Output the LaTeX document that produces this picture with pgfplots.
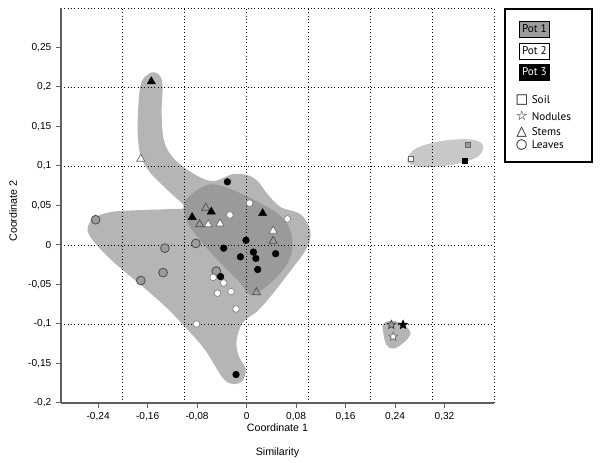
\documentclass[border=0pt]{standalone}
\usepackage{fontspec}
\setmainfont{Liberation Sans}
\newfontfamily\legfont{PT Sans}
\newfontfamily\symfont{DejaVu Sans}
\usepackage{pgfplots}
\pgfplotsset{compat=1.18}
\definecolor{areaA}{HTML}{B5B5B5}
\definecolor{areaB}{HTML}{9A9A9A}
\definecolor{areaC}{HTML}{C8C8C8}
\definecolor{potgray}{HTML}{9C9C9C}
\definecolor{spine}{HTML}{606060}

% five-pointed star mark
\pgfdeclareplotmark{pstar}{%
  \pgfpathmoveto{\pgfqpointpolar{90}{\pgfplotmarksize}}%
  \pgfpathlineto{\pgfqpointpolar{126}{0.45\pgfplotmarksize}}%
  \pgfpathlineto{\pgfqpointpolar{162}{\pgfplotmarksize}}%
  \pgfpathlineto{\pgfqpointpolar{198}{0.45\pgfplotmarksize}}%
  \pgfpathlineto{\pgfqpointpolar{234}{\pgfplotmarksize}}%
  \pgfpathlineto{\pgfqpointpolar{270}{0.45\pgfplotmarksize}}%
  \pgfpathlineto{\pgfqpointpolar{306}{\pgfplotmarksize}}%
  \pgfpathlineto{\pgfqpointpolar{342}{0.45\pgfplotmarksize}}%
  \pgfpathlineto{\pgfqpointpolar{18}{\pgfplotmarksize}}%
  \pgfpathlineto{\pgfqpointpolar{54}{0.45\pgfplotmarksize}}%
  \pgfpathclose
  \pgfusepathqfillstroke}

\newcommand\potbox[3]{{\fboxsep=1.6pt\fboxrule=0.8pt\fcolorbox{black}{#1}{\rule[-1.7pt]{0pt}{7.8pt}\color{#2}#3}}}
\newcommand\lsym[1]{\makebox[7.5pt][c]{\symfont\fontsize{10}{10}\selectfont #1}}
\newcommand\ltxt[1]{\makebox[45pt][l]{#1}}

\begin{document}
\begin{tikzpicture}
\begin{axis}[
    scale only axis, width=324.75pt, height=296.25pt,
    xmin=-0.3, xmax=0.4, ymin=-0.2, ymax=0.3,
    axis x line=bottom, axis y line=left,
    axis line style={-, draw=spine, line width=0.9pt},
    every outer x axis line/.append style={-},
    every outer y axis line/.append style={-},
    tick align=outside, major tick length=3.75pt,
    tick style={draw=spine, line width=0.75pt},
    xtick={-0.24,-0.16,-0.08,0,0.08,0.16,0.24,0.32},
    xticklabels={{-0,24},{-0,16},{-0,08},{0},{0,08},{0,16},{0,24},{0,32}},
    ytick={-0.2,-0.15,-0.1,-0.05,0,0.05,0.1,0.15,0.2,0.25},
    yticklabels={{-0,2},{-0,15},{-0,1},{-0,05},{0},{0,05},{0,1},{0,15},{0,2},{0,25}},
    extra x ticks={-0.2,-0.1,0,0.1,0.2,0.3,0.4},
    extra y ticks={-0.1,0,0.1,0.2,0.3},
    extra x tick labels={}, extra y tick labels={},
    extra tick style={grid=major, major tick length=0pt},
    major grid style={black, line width=0.55pt, dash pattern=on 0.6pt off 1.9pt},
    set layers,
    clip=false,
    ticklabel style={font=\fontsize{7.6}{9}\selectfont},
    label style={font=\fontsize{8}{10}\selectfont},
    xlabel={Coordinate 1},
    xlabel style={at={(axis description cs:0.5,-0.0633)}, anchor=center},
    ylabel={Coordinate 2},
    ylabel style={at={(axis description cs:-0.111,0.486)}, anchor=center},
]
% shaded groups
\addplot[fill=areaA, draw=none, smooth cycle, tension=0.55, on layer=axis background, forget plot] coordinates {
(-0.1535,0.2184) (-0.1405,0.2146) (-0.1357,0.2008) (-0.1373,0.1692) (-0.1341,0.1338)
(-0.1195,0.1111) (-0.0872,0.0909) (-0.0549,0.0808) (-0.0226,0.0896) (0.0016,0.0884)
(0.0178,0.0808) (0.0339,0.0644) (0.0549,0.048) (0.084,0.0404) (0.0985,0.0278)
(0.1034,0.0101) (0.0937,-0.0088) (0.0745,-0.029) (0.0549,-0.0492) (0.0355,-0.0682)
(0.0162,-0.0846) (-0.0065,-0.0985) (-0.0162,-0.1212) (-0.0129,-0.1402) (-0.0016,-0.1566)
(-0.0065,-0.1720) (-0.0226,-0.1760) (-0.0388,-0.1680) (-0.0662,-0.1338) (-0.0937,-0.1086)
(-0.1309,-0.0783) (-0.1712,-0.0505) (-0.2116,-0.024) (-0.2423,0) (-0.2569,0.0177)
(-0.2488,0.0328) (-0.2197,0.0417) (-0.1712,0.0442) (-0.1228,0.0455) (-0.1002,0.048)
(-0.126,0.0682) (-0.1551,0.0909) (-0.1712,0.1124) (-0.1761,0.1439) (-0.1745,0.1818)
(-0.1696,0.2071)
};
\addplot[fill=areaB, draw=none, smooth cycle, tension=0.55, on layer=axis background, forget plot] coordinates {
(-0.0985,0.0568) (-0.0775,0.0707) (-0.0549,0.077) (-0.0258,0.0707) (0.0065,0.0593)
(0.0468,0.0417) (0.0679,0.024) (0.0743,0.0025) (0.0695,-0.0177) (0.0549,-0.0354)
(0.0291,-0.0543) (0.0065,-0.0631) (-0.0129,-0.0455) (-0.042,-0.0227) (-0.0743,0.0051)
(-0.0953,0.0278) (-0.1018,0.0455)
};
\addplot[fill=areaC, draw=none, smooth cycle, tension=0.6, on layer=axis background, forget plot] coordinates {
(0.2601,0.1098) (0.2746,0.1225) (0.3134,0.1313) (0.3586,0.1338) (0.3813,0.1275)
(0.3748,0.1124) (0.3376,0.1023) (0.2892,0.0985) (0.2649,0.1023)
};
\addplot[fill=areaA, draw=none, smooth cycle, tension=0.6, on layer=axis background, forget plot] coordinates {
(0.2213,-0.0997) (0.2375,-0.096) (0.2569,-0.1023) (0.2649,-0.1124) (0.2536,-0.1237)
(0.2375,-0.1313) (0.2262,-0.1263) (0.2213,-0.1124)
};

% Leaves (circles)
\addplot[only marks, mark=*, mark size=3.3pt, mark options={fill=potgray, draw=black!70, line width=0.6pt}, forget plot] table {
x y
-0.244 0.032
-0.132 -0.004
-0.135 -0.035
-0.171 -0.045
-0.082 0.002
-0.049 -0.033
};
\addplot[only marks, mark=*, mark size=2.5pt, mark options={fill=white, draw=black!55, line width=0.4pt}, forget plot] table {
x y
0.005 0.053
-0.027 0.038
0.066 0.033
-0.054 -0.041
-0.037 -0.048
-0.047 -0.061
-0.025 -0.059
-0.017 -0.081
-0.081 -0.100
};
\addplot[only marks, mark=*, mark size=2.5pt, mark options={fill=black, draw=black}, forget plot] table {
x y
-0.031 0.080
-0.001 0.006
-0.037 -0.004
0.011 -0.009
-0.010 -0.015
0.015 -0.017
0.047 -0.011
0.018 -0.031
-0.042 -0.040
-0.017 -0.164
};
% Stems (triangles)
\addplot[only marks, mark=triangle*, mark size=3.5pt, mark options={fill=potgray, draw=black!70, line width=0.5pt}, forget plot] table {
x y
-0.066 0.047
-0.076 0.026
0.043 0.005
0.016 -0.060
};
\addplot[only marks, mark=triangle*, mark size=3.5pt, mark options={fill=white, draw=black!60, line width=0.5pt}, forget plot] table {
x y
-0.171 0.109
-0.062 0.026
-0.043 0.027
0.043 0.018
};
\addplot[only marks, mark=triangle*, mark size=3.5pt, mark options={fill=black, draw=black}, forget plot] table {
x y
-0.154 0.207
-0.088 0.035
-0.057 0.042
0.026 0.040
};
% Soil (squares)
\addplot[only marks, mark=square*, mark size=1.9pt, mark options={fill=white, draw=black!60, line width=0.4pt}, forget plot] table {
x y
0.265 0.1095
};
\addplot[only marks, mark=square*, mark size=1.9pt, mark options={fill=potgray, draw=black!60, line width=0.4pt}, forget plot] table {
x y
0.358 0.127
};
\addplot[only marks, mark=square*, mark size=1.9pt, mark options={fill=black, draw=black}, forget plot] table {
x y
0.352 0.1065
};
% Nodules (stars)
\addplot[only marks, mark=pstar, mark size=3.4pt, mark options={fill=potgray, draw=black!75, line width=0.5pt}, forget plot] table {
x y
0.234 -0.101
};
\addplot[only marks, mark=pstar, mark size=3.4pt, mark options={fill=black, draw=black, line width=0.5pt}, forget plot] table {
x y
0.253 -0.101
};
\addplot[only marks, mark=pstar, mark size=3.4pt, mark options={fill=white, draw=black!60, line width=0.5pt}, forget plot] table {
x y
0.237 -0.116
};
\end{axis}
% legend
\node[draw=black, line width=1.2pt, inner sep=0pt, anchor=north west,
      font=\legfont\fontsize{8.4}{10}\selectfont]
  at ([xshift=7.5pt]current axis.north east) {%
  \renewcommand\arraystretch{0}%
  \begin{tabular}{@{\hspace{9pt}}l@{\hspace{3.75pt}}l@{}}
  \multicolumn{2}{@{\hspace{10.5pt}}l@{}}{\potbox{potgray}{black}{Pot 1}\rule[-5.45pt]{0pt}{23.25pt}}\\
  \multicolumn{2}{@{\hspace{10.5pt}}l@{}}{\potbox{white}{black}{Pot 2}\rule[-5.075pt]{0pt}{16.125pt}}\\
  \multicolumn{2}{@{\hspace{10.5pt}}l@{}}{\potbox{black}{white}{Pot 3}\rule[-7.7pt]{0pt}{18.375pt}}\\
  \lsym{□} & \ltxt{Soil\rule[-3.575pt]{0pt}{16.875pt}}\\
  \lsym{☆} & \ltxt{Nodules\rule[-2.825pt]{0pt}{12pt}}\\
  \lsym{△} & \ltxt{Stems\rule[-2.075pt]{0pt}{10.5pt}}\\
  \lsym{○} & \ltxt{Leaves\rule[-9.95pt]{0pt}{17.625pt}}\\
  \end{tabular}};
\node[font=\fontsize{8}{10}\selectfont] at ([yshift=-37.5pt]current axis.south) {Similarity};
\pgfresetboundingbox
\path (-45.75pt,-45pt) rectangle (404.25pt,302.25pt);
\end{tikzpicture}
\end{document}
